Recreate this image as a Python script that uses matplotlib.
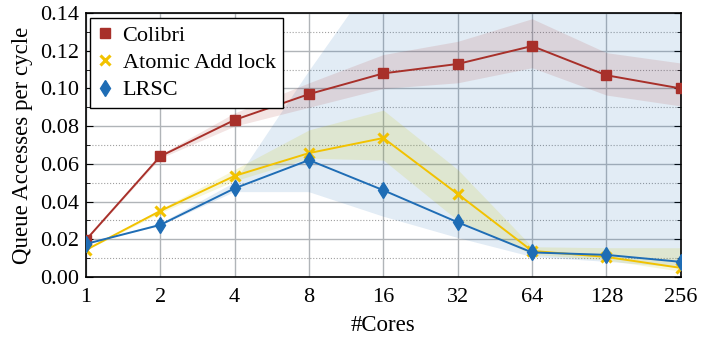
import matplotlib
matplotlib.use("Agg")
import matplotlib.pyplot as plt
from matplotlib.ticker import MultipleLocator

plt.rcParams['font.family'] = ['Liberation Serif', 'DejaVu Serif']
plt.rcParams['mathtext.fontset'] = 'stix'

cores = [1, 2, 4, 8, 16, 32, 64, 128, 256]

colibri = [0.0196, 0.064, 0.0833, 0.097, 0.108, 0.113, 0.1225, 0.107, 0.100]
colibri_lo = [0.0194, 0.063, 0.0800, 0.090, 0.100, 0.103, 0.111, 0.0965, 0.0907]
colibri_hi = [0.0198, 0.065, 0.0870, 0.103, 0.118, 0.125, 0.137, 0.119, 0.1135]

atomic = [0.0143, 0.035, 0.0536, 0.0657, 0.0737, 0.044, 0.0138, 0.0106, 0.0048]
atomic_lo = [0.0141, 0.034, 0.0510, 0.0630, 0.062, 0.030, 0.0120, 0.0090, 0.0030]
atomic_hi = [0.0145, 0.036, 0.0570, 0.0780, 0.0885, 0.057, 0.0160, 0.0155, 0.0155]

lrsc = [0.0175, 0.0276, 0.047, 0.062, 0.046, 0.029, 0.013, 0.0117, 0.008]
lrsc_lo = [0.0173, 0.0270, 0.045, 0.045, 0.032, 0.0207, 0.0106, 0.008, 0.005]
lrsc_hi = [0.0177, 0.0282, 0.050, 0.109, 0.165, 0.20, 0.20, 0.20, 0.20]

red = '#a8302a'
yellow = '#f2c200'
blue = '#1f6db5'

fig, ax = plt.subplots(figsize=(7.04, 3.44), dpi=100)
fig.subplots_adjust(left=0.122, right=0.967, top=0.962, bottom=0.195)

ax.fill_between(cores, lrsc_lo, lrsc_hi, color=blue, alpha=0.13, linewidth=0, zorder=1)
ax.fill_between(cores, atomic_lo, atomic_hi, color='#c8c400', alpha=0.15, linewidth=0, zorder=1)
ax.fill_between(cores, colibri_lo, colibri_hi, color=red, alpha=0.13, linewidth=0, zorder=1)

ax.plot(cores, colibri, color=red, marker='s', markersize=7.5, linewidth=1.4, label='Colibri', zorder=4)
ax.plot(cores, atomic, color=yellow, marker='x', markersize=7, markeredgewidth=2.2, linewidth=1.4,
        label='Atomic Add lock', zorder=4)
ax.plot(cores, lrsc, color=blue, marker='d', markersize=8.5, linewidth=1.4, label='LRSC', zorder=4)

ax.set_xscale('log', base=2)
ax.set_xticks(cores)
ax.set_xticklabels([str(c) for c in cores])
ax.minorticks_off()
ax.set_xlim(1, 256)
ax.set_ylim(0, 0.14)
ax.yaxis.set_major_locator(MultipleLocator(0.02))
ax.yaxis.set_minor_locator(MultipleLocator(0.01))
ax.yaxis.set_major_formatter(matplotlib.ticker.FormatStrFormatter('%.2f'))

ax.grid(True, which='major', color='#b0b4b8', linewidth=1.0, zorder=0)
ax.grid(True, which='minor', axis='y', color='#a0a0a0', linestyle=':', linewidth=0.8, zorder=0)
ax.set_axisbelow(True)

ax.tick_params(axis='both', which='both', direction='in', right=True, labelsize=16)
ax.tick_params(axis='y', which='major', length=5, pad=5)
ax.tick_params(axis='y', which='minor', length=3)
ax.tick_params(axis='x', length=0, pad=8)
for s in ax.spines.values():
    s.set_linewidth(1.2)

ax.set_xlabel('#Cores', fontsize=16.5, labelpad=6)
ax.set_ylabel('Queue Accesses per cycle', fontsize=16.5, labelpad=5)

leg = ax.legend(loc='upper left', fontsize=16, fancybox=False, edgecolor='black', framealpha=1,
                handlelength=0.6, handletextpad=0.5, borderpad=0.35, labelspacing=0.3,
                borderaxespad=0.2)
leg.get_frame().set_linewidth(1.0)
for h in leg.legend_handles:
    h.set_linestyle('none')

fig.savefig('out.png', dpi=100)
